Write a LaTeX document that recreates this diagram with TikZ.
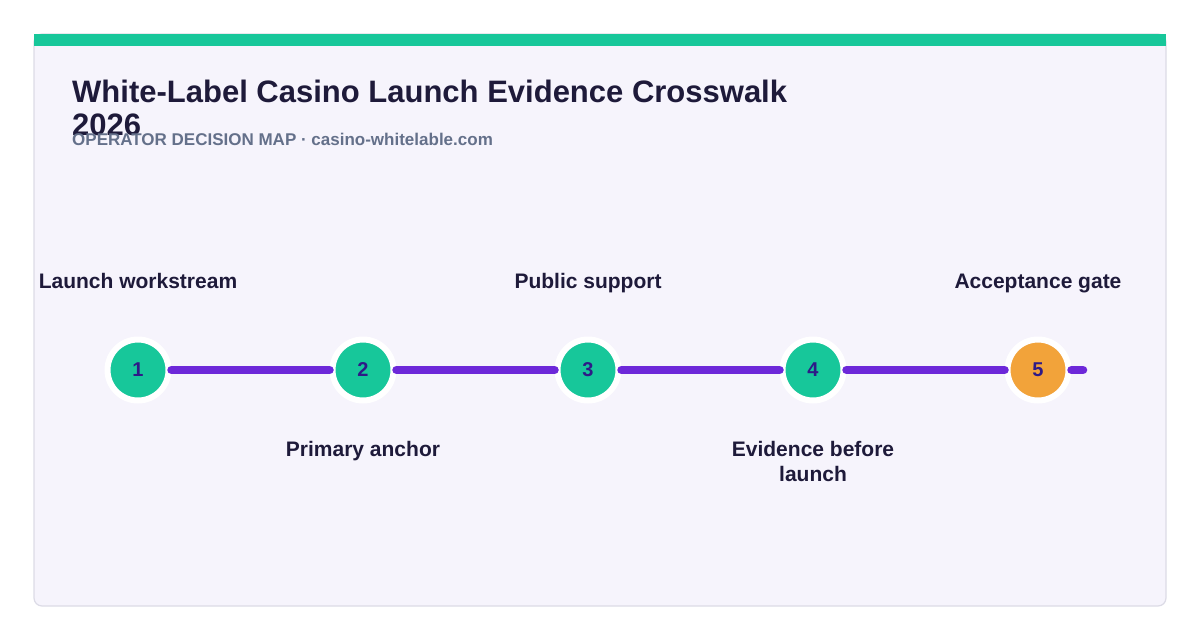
\documentclass[tikz,border=0pt]{standalone}
\usepackage{fontspec}
\setmainfont{Liberation Sans}
\usetikzlibrary{positioning}
\definecolor{cardbg}{HTML}{F6F4FC}
\definecolor{cardline}{HTML}{DCDBE6}
\definecolor{mint}{HTML}{17C79A}
\definecolor{amber}{HTML}{F2A33A}
\definecolor{violet}{HTML}{6D28D9}
\definecolor{ink}{HTML}{1E1A3A}
\definecolor{slate}{HTML}{64708A}
\definecolor{digit}{HTML}{2E1A87}
\begin{document}
\begin{tikzpicture}[x=1pt, y=-1pt, node distance={158pt}, 
    main/.style = {draw=white, line width=6pt, circle, fill=mint, minimum size=61pt, inner sep=0pt, font=\bfseries\fontsize{20}{24}\selectfont, text=digit},
    lbl/.style = {inner sep=0pt, align=center, text=ink, font=\bfseries\fontsize{21}{25}\selectfont},
    uplbl/.style = {lbl, text depth=0pt},
    lowlbl/.style = {lbl},
    track/.style = {violet, line width=8.5pt, line cap=round}]
    \useasboundingbox (0,0) rectangle (1200,640);

    % card
    \draw[cardline, fill=cardbg, line width=1.2pt, rounded corners=8pt] (34,34) rectangle (1166,606);
    \fill[mint] (34,34) rectangle (1166,46);

    % heading
    \node[anchor=north west, inner sep=0pt, align=left, text=ink, font=\bfseries\fontsize{31}{33}\selectfont] (title) at (72,79.5) {White-Label Casino Launch Evidence Crosswalk\\2026};
    \node[anchor=base west, inner sep=0pt, text=slate, font=\bfseries\fontsize{17}{20}\selectfont] (sub) at (72,145) {OPERATOR DECISION MAP · casino-whitelable.com};

    % steps
    \node[main] (1) at (138,370) {1};
    \node[main] (2) [right=of 1] {2};
    \node[main] (3) [right=of 2] {3};
    \node[main] (4) [right=of 3] {4};
    \node[main, fill=amber] (5) [right=of 4] {5};
    \coordinate (end) at (1083,370);

    \draw[track] (1) -- (2);
    \draw[track] (2) -- (3);
    \draw[track] (3) -- (4);
    \draw[track] (4) -- (5);
    \draw[track] (5) -- (end);

    % labels
    \node[uplbl] (l1) [above=48pt of 1] {Launch workstream};
    \node[lowlbl] (l2) [below=38pt of 2] {Primary anchor};
    \node[uplbl] (l3) [above=48pt of 3] {Public support};
    \node[lowlbl] (l4) [below=38pt of 4] {Evidence before\\launch};
    \node[uplbl] (l5) [above=48pt of 5] {Acceptance gate};

\end{tikzpicture}
\end{document}
